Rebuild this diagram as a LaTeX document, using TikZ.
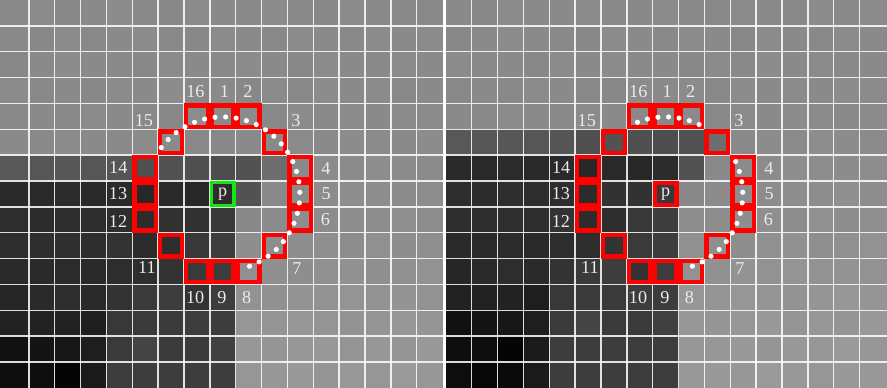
\documentclass[tikz,border=0pt]{standalone}
\usepackage{fontspec}
\setmainfont{Liberation Serif}
\definecolor{pgreen}{RGB}{20,230,20}
\definecolor{labcol}{RGB}{236,236,236}
\def\Mat{%
{137,139,136,138,140,137,136,139,138,137,140,138,136,139,137,138,137},%
{138,136,139,137,138,140,137,136,139,138,137,139,138,137,140,138,139},%
{136,138,140,138,137,136,139,138,137,140,138,136,139,138,137,139,138},%
{139,137,138,136,139,138,140,137,138,136,139,137,140,138,139,137,138},%
{137,138,137,139,138,137,136,140,138,139,137,140,138,139,138,140,139},%
{138,137,139,138,137,139,138,137,136,138,137,139,138,140,139,138,140},%
{88,86,87,86,85,80,82,80,78,82,110,138,140,139,141,140,139},%
{42,41,43,42,42,40,42,39,44,82,137,139,140,142,141,140,141},%
{45,44,46,45,45,44,50,50,56,136,140,141,140,142,141,143,141},%
{46,46,47,46,51,44,46,56,61,142,141,142,143,141,144,142,143},%
{42,42,43,42,45,46,51,58,61,144,143,142,144,145,143,144,146},%
{38,42,45,42,51,58,61,51,61,146,145,147,146,148,146,147,146},%
{34,34,34,30,56,58,58,61,61,150,148,150,148,147,149,151,149},%
{17,20,23,30,58,68,58,58,64,151,149,150,152,148,151,149,152},%
{14,14,5,26,61,61,61,61,61,150,151,153,149,152,150,154,151},%
{13,8,10,26,61,61,61,61,61,152,153,151,154,152,150,153,152}}
\begin{document}
\begin{tikzpicture}[x=0.5cm,y=0.5cm,
  gridline/.style={white,opacity=0.85,line width=0.8pt},
  redbox/.style={draw=red,line width=2.4pt},
  greenbox/.style={draw=pgreen,line width=1.8pt},
  dotmark/.style={fill=white},
  lab/.style={text=labcol,inner sep=0pt,font=\fontsize{10}{12}\selectfont}]
\fill[white] (0,0) rectangle (34.3,15);
\useasboundingbox (0,0) rectangle (34.3,15);
\foreach \xo/\sh/\el/\er/\pn in {0.114/0/0.2/0/L, 17.241/1/0/0.2/R} {
  % pixels
  \foreach \row [count=\r from 0] in \Mat {
    \pgfmathtruncatemacro\pr{\r-\sh}
    \ifnum\pr>-1 \ifnum\pr<15
      \foreach \v [count=\c from 0] in \row {
        \pgfmathsetmacro\pc{\v/2.55}
        \pgfmathsetmacro\xa{\xo+\c-(\c==0)*\el}
        \pgfmathsetmacro\xb{\xo+\c+1+(\c==16)*\er}
        \fill[fill=white!\pc!black] (\xa,14-\pr) rectangle (\xb,15-\pr);
      }
    \fi\fi
  }
  % grid
  \foreach \k in {1,...,16} \draw[gridline] (\xo+\k,0) -- (\xo+\k,15);
  \foreach \k in {1,...,14} \draw[gridline] (\xo-\el,\k) -- (\xo+17+\er,\k);
  % circle boxes
  \foreach \dx/\dy in {0/-3,1/-3,2/-2,3/-1,3/0,3/1,2/2,1/3,0/3,-1/3,-2/2,-3/1,-3/0,-3/-1,-2/-2,-1/-3}
    \draw[redbox] (\xo+8+\dx+0.083,7-\dy+0.083) rectangle (\xo+9+\dx-0.083,8-\dy-0.083);
  % labels
  \foreach \n/\lx/\ly in {16/7.44/3.53,1/8.56/3.53,2/9.47/3.53,3/11.33/4.68,4/12.49/6.52,5/12.5/7.5,6/12.47/8.5,7/11.37/10.37,8/9.42/11.52,9/8.47/11.52,10/7.43/11.52,11/5.57/10.36,12/4.45/8.55,13/4.45/7.5,14/4.46/6.49,15/5.45/4.68}
    \node[lab] (lab\n\pn) at (\xo+\lx,15-\ly) {\n};
  \node[lab] (p\pn) at (\xo+8.5,7.5) {p};
}
% left panel: green p box and dots
\draw[greenbox] (0.114+8+0.063,7+0.063) rectangle (0.114+9-0.063,8-0.063);
\foreach \k in {0,...,27}
  \fill[dotmark] (0.114+8.5,7.5) ++({143-\k*7.877}:2.98) circle (0.1);
% right panel: red p box and dots
\draw[redbox] (17.241+8+0.083,7+0.083) rectangle (17.241+9-0.083,8-0.083);
\foreach \k in {4,...,10,15,16,...,27}
  \fill[dotmark] (17.241+8.5,7.5) ++({143-\k*7.877}:2.98) circle (0.1);
\end{tikzpicture}
\end{document}
